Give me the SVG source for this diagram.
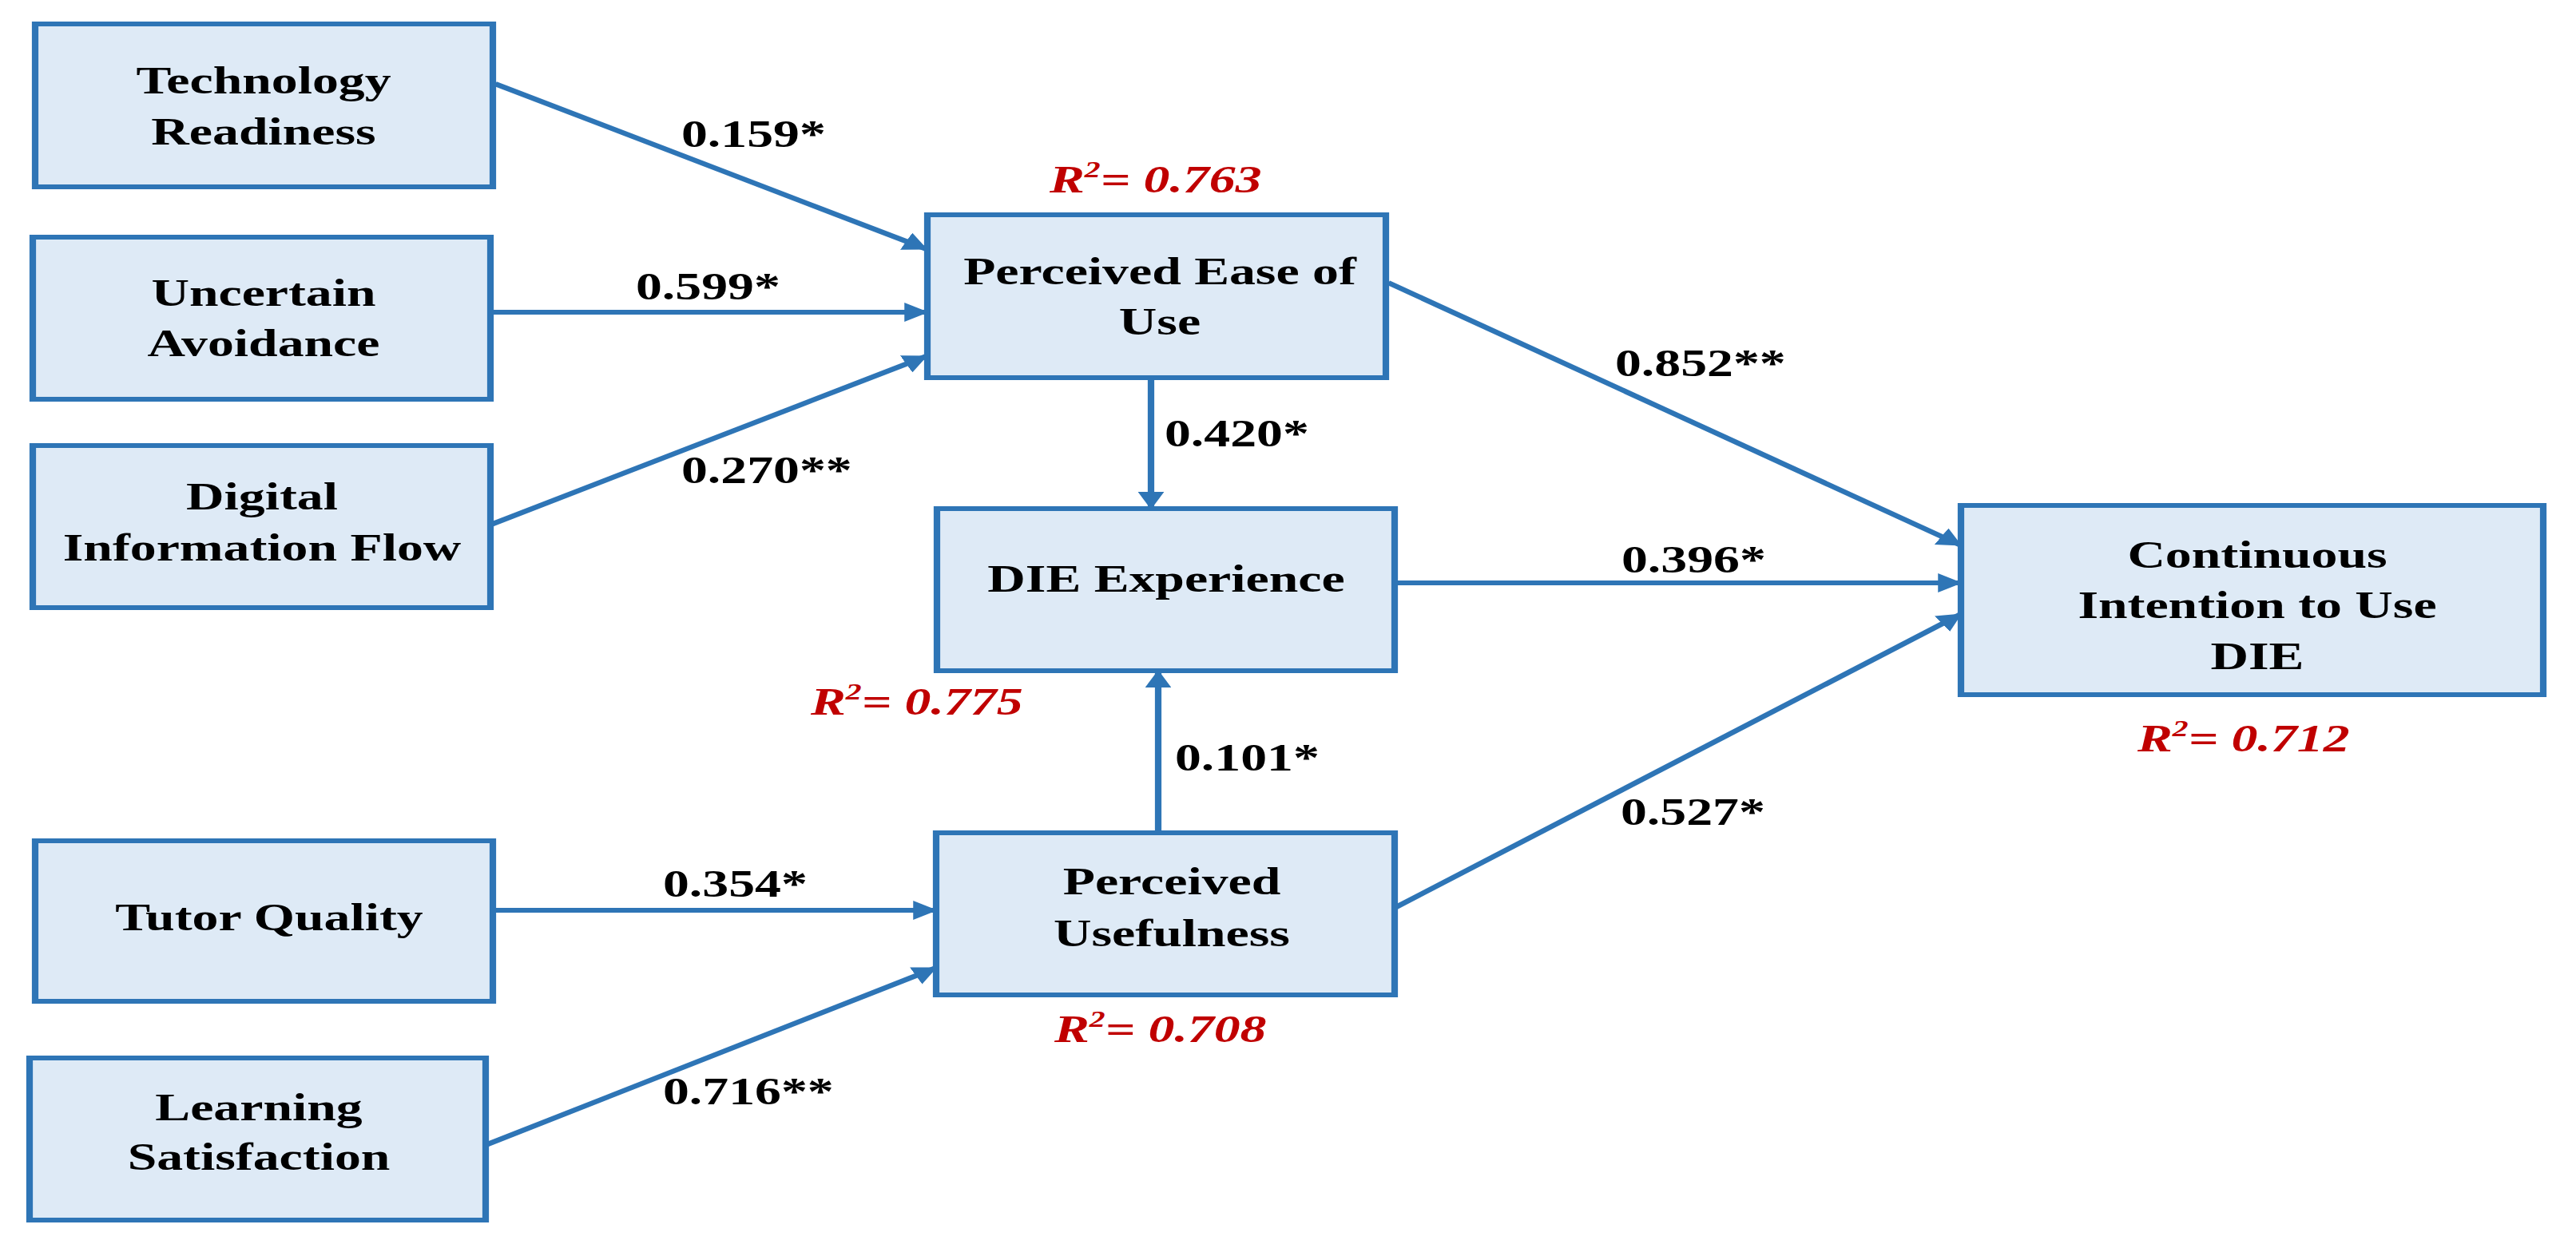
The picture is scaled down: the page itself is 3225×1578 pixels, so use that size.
<svg xmlns="http://www.w3.org/2000/svg" width="3225" height="1578" viewBox="0 0 3225 1578">
<style>
.box{fill:#DEEAF6;stroke:#2E75B6;stroke-width:6}
.conn{stroke:#2E75B6;stroke-width:6;fill:none}
.t{font-family:"Liberation Serif","Times New Roman",serif;font-weight:bold;font-size:48px;fill:#000}
.n{text-anchor:middle}
.r{font-family:"Liberation Serif","Times New Roman",serif;font-weight:bold;font-style:italic;font-size:48px;fill:#C00000}
</style>
<defs>
<marker id="ah" viewBox="0 0 22 24" refX="21" refY="12" markerWidth="22" markerHeight="24" orient="auto" markerUnits="userSpaceOnUse"><path d="M0,0 L22,12 L0,24 z" fill="#2E75B6"/></marker>
</defs>
<rect width="3225" height="1578" fill="#fff"/>
<g transform="scale(1.37,1)">
<g id="connectors">
<line class="conn" x1="452.55" y1="105" x2="846.72" y2="312" marker-end="url(#ah)"/>
<line class="conn" x1="448.18" y1="391" x2="847.45" y2="391" marker-end="url(#ah)"/>
<line class="conn" x1="446.72" y1="658" x2="846.72" y2="446" marker-end="url(#ah)"/>
<line class="conn" x1="1051.82" y1="473" x2="1051.82" y2="637" marker-end="url(#ah)"/>
<line class="conn" x1="1268.61" y1="354" x2="1791.97" y2="683" marker-end="url(#ah)"/>
<line class="conn" x1="1274.45" y1="730" x2="1791.97" y2="730" marker-end="url(#ah)"/>
<line class="conn" x1="1274.45" y1="1137" x2="1791.97" y2="769" marker-end="url(#ah)"/>
<line class="conn" x1="1058.39" y1="1043" x2="1058.39" y2="840" marker-end="url(#ah)"/>
<line class="conn" x1="450.36" y1="1140" x2="855.47" y2="1140" marker-end="url(#ah)"/>
<line class="conn" x1="443.80" y1="1434" x2="855.47" y2="1212" marker-end="url(#ah)"/>
</g>
<g id="labels">
<text class="t" x="622.63" y="184">0.159*</text>
<text class="t" x="581.02" y="375">0.599*</text>
<text class="t" x="622.63" y="605">0.270**</text>
<text class="t" x="1064.23" y="559">0.420*</text>
<text class="t" x="1475.91" y="471">0.852**</text>
<text class="t" x="1481.75" y="717">0.396*</text>
<text class="t" x="1073.72" y="965">0.101*</text>
<text class="t" x="1481.02" y="1033">0.527*</text>
<text class="t" x="605.84" y="1123">0.354*</text>
<text class="t" x="605.84" y="1383">0.716**</text>
<text class="r" x="959.12" y="241">R<tspan font-size="29" dy="-19">2</tspan><tspan dy="19">= 0.763</tspan></text>
<text class="r" x="740.88" y="895">R<tspan font-size="29" dy="-19">2</tspan><tspan dy="19">= 0.775</tspan></text>
<text class="r" x="963.50" y="1305">R<tspan font-size="29" dy="-19">2</tspan><tspan dy="19">= 0.708</tspan></text>
<text class="r" x="1953.28" y="941">R<tspan font-size="29" dy="-19">2</tspan><tspan dy="19">= 0.712</tspan></text>
</g>
<g id="node-tr">
<rect class="box" x="32.12" y="30" width="418.25" height="204"/>
<text class="t n" y="117"><tspan x="240.88">Technology</tspan><tspan x="240.88" dy="64">Readiness</tspan></text>
</g>
<g id="node-ua">
<rect class="box" x="29.93" y="297" width="418.25" height="203"/>
<text class="t n" y="383"><tspan x="240.88">Uncertain</tspan><tspan x="240.88" dy="63">Avoidance</tspan></text>
</g>
<g id="node-dif">
<rect class="box" x="29.93" y="558" width="418.25" height="203"/>
<text class="t n" y="638"><tspan x="239.42">Digital</tspan><tspan x="239.42" dy="64">Information Flow</tspan></text>
</g>
<g id="node-tq">
<rect class="box" x="32.12" y="1053" width="418.25" height="201"/>
<text class="t n" x="245.99" y="1165">Tutor Quality</text>
</g>
<g id="node-ls">
<rect class="box" x="27.01" y="1325" width="416.79" height="203"/>
<text class="t n" y="1403"><tspan x="236.50">Learning</tspan><tspan x="236.50" dy="62">Satisfaction</tspan></text>
</g>
<g id="node-peou">
<rect class="box" x="847.45" y="269" width="418.98" height="204"/>
<text class="t n" y="356"><tspan x="1059.85">Perceived Ease of</tspan><tspan x="1059.85" dy="63">Use</tspan></text>
</g>
<g id="node-die">
<rect class="box" x="856.20" y="637" width="418.25" height="203"/>
<text class="t n" x="1065.69" y="741">DIE Experience</text>
</g>
<g id="node-pu">
<rect class="box" x="855.47" y="1043" width="418.98" height="203"/>
<text class="t n" y="1120"><tspan x="1070.80">Perceived</tspan><tspan x="1070.80" dy="65">Usefulness</tspan></text>
</g>
<g id="node-ciu">
<rect class="box" x="1791.97" y="633" width="532.12" height="237"/>
<text class="t n" y="711"><tspan x="2062.77">Continuous</tspan><tspan x="2062.77" dy="63">Intention to Use</tspan><tspan x="2062.77" dy="64">DIE</tspan></text>
</g>
</g>
</svg>
